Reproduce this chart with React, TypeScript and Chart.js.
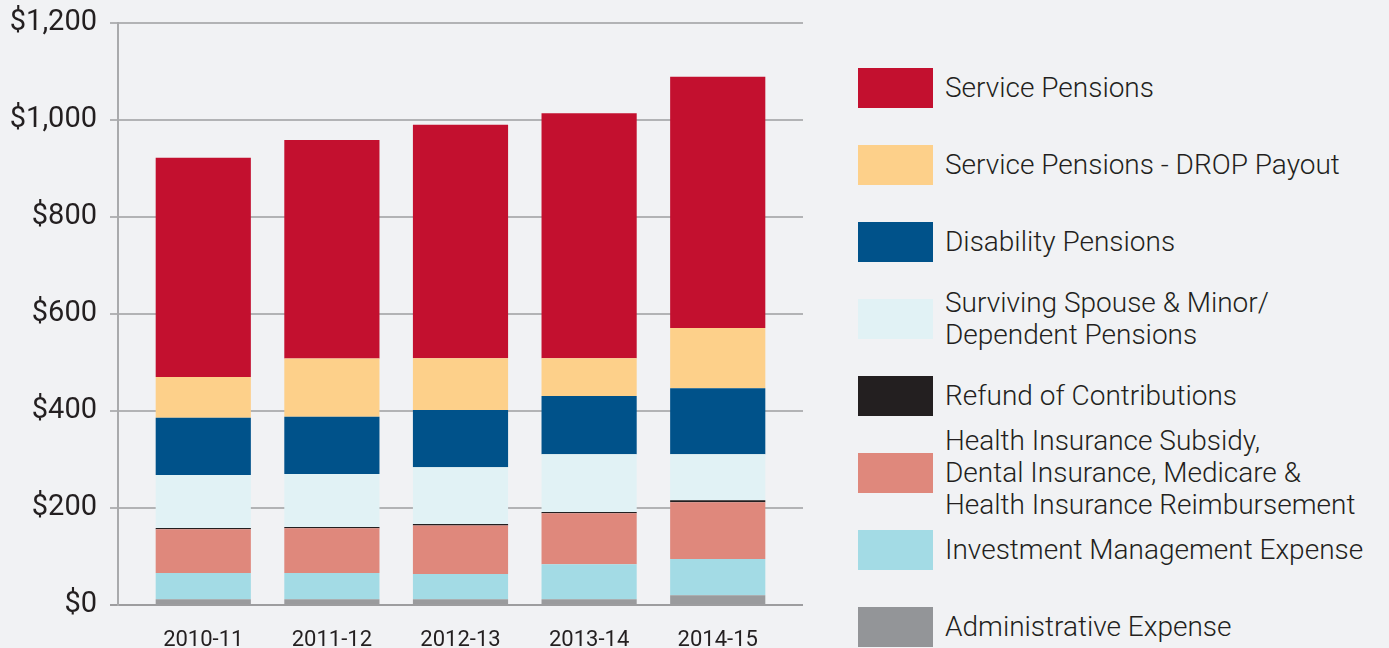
import React, { useEffect, useRef } from 'react';
import { Chart, registerables } from 'chart.js';

Chart.register(...registerables);

const categories = ['2010-11', '2011-12', '2012-13', '2013-14', '2014-15'];
const administrativeExpense = [12, 12, 12, 12, 20];
const investmentManagementExpense = [54, 54, 52, 72, 75];
const healthInsurance = [90, 92, 100, 105, 117];
const refundOfContributions = [3, 3, 3, 3, 4];
const survivingSpousePensions = [109, 109, 117, 119, 95];
const disabilityPensions = [118, 118, 118, 120, 136];
const dropPayout = [84, 120, 107, 78, 124];
const servicePensions = [452, 451, 481, 505, 518];
const yTickValues = [0, 200, 400, 600, 800, 1000, 1200];

const TEXT = '#231f20';
const FONT = 'Roboto, "Open Sans", sans-serif';

const series = [
  { label: ['Administrative Expense'], data: administrativeExpense, color: '#9a9b9d', swatch: '#939598' },
  { label: ['Investment Management Expense'], data: investmentManagementExpense, color: '#a3dbe5', swatch: '#a3dbe5' },
  { label: ['Health Insurance Subsidy,', 'Dental Insurance, Medicare &', 'Health Insurance Reimbursement'], data: healthInsurance, color: '#df887c', swatch: '#df887c' },
  { label: ['Refund of Contributions'], data: refundOfContributions, color: '#231f20', swatch: '#231f20' },
  { label: ['Surviving Spouse & Minor/', 'Dependent Pensions'], data: survivingSpousePensions, color: '#e1f2f5', swatch: '#e1f2f5' },
  { label: ['Disability Pensions'], data: disabilityPensions, color: '#00528a', swatch: '#00528a' },
  { label: ['Service Pensions - DROP Payout'], data: dropPayout, color: '#fdd08a', swatch: '#fdd08a' },
  { label: ['Service Pensions'], data: servicePensions, color: '#c3102f', swatch: '#c3102f' },
];

export default function App() {
  const canvasRef = useRef<HTMLCanvasElement | null>(null);

  useEffect(() => {
    if (!canvasRef.current) return;
    const chart = new Chart(canvasRef.current, {
      type: 'bar',
      data: {
        datasets: series.map((s) => ({
          label: s.label.join(' '),
          data: s.data.map((v, i) => ({ x: i, y: v })),
          backgroundColor: s.color,
          borderWidth: 0,
          barPercentage: 0.74,
          categoryPercentage: 1,
        })),
      },
      options: {
        animation: false,
        responsive: false,
        layout: { padding: { left: 0, right: 27, top: 23, bottom: 0 } },
        plugins: { legend: { display: false }, tooltip: { enabled: false } },
        scales: {
          x: {
            type: 'linear',
            stacked: true,
            offset: false,
            min: -0.663,
            max: 4.663,
            grid: { display: false, offset: false },
            border: { display: false },
            afterBuildTicks: (scale: any) => {
              scale.ticks = categories.map((_, i) => ({ value: i }));
            },
            afterFit: (scale: any) => {
              scale.height = 43;
              scale.paddingLeft = 0;
              scale.paddingRight = 0;
            },
            ticks: {
              autoSkip: false,
              maxRotation: 0,
              padding: 14,
              color: TEXT,
              font: { family: FONT, size: 22 },
              callback: (v: any) => categories[v as number] ?? '',
            },
          },
          y: {
            stacked: true,
            min: 0,
            max: 1200,
            afterBuildTicks: (scale: any) => {
              scale.ticks = yTickValues.map((v) => ({ value: v }));
            },
            afterFit: (scale: any) => {
              scale.width = 118;
              scale.paddingTop = 0;
              scale.paddingBottom = 0;
            },
            grid: {
              color: (ctx: any) => (ctx.tick && ctx.tick.value === 0 ? '#9d9d9f' : '#b2b3b5'),
              lineWidth: 2,
              tickLength: 8,
            },
            border: { display: true, color: '#a9aaac', width: 2 },
            ticks: {
              padding: 13,
              color: TEXT,
              font: { family: FONT, size: 29 },
              callback: (v: any) => '$' + Number(v).toLocaleString('en-US'),
            },
          },
        },
      },
    });
    return () => chart.destroy();
  }, []);

  const legendItems = [...series].reverse();

  return (
    <div
      style={{
        position: 'fixed',
        left: 0,
        top: 0,
        width: 1389,
        height: 648,
        background: '#f1f2f4',
        overflow: 'hidden',
        fontFamily: FONT,
      }}
    >
      <canvas ref={canvasRef} width={830} height={648} style={{ position: 'absolute', left: 0, top: 0 }} />
      <div style={{ position: 'absolute', left: 858, top: 49, width: 531 }}>
        {legendItems.map((s, i) => (
          <div key={i} style={{ height: 77, display: 'flex', alignItems: 'center' }}>
            <div style={{ width: 75, height: 40, background: s.swatch, flex: '0 0 auto' }} />
            <div
              style={{
                marginLeft: 12,
                fontSize: 28,
                lineHeight: '32px',
                color: TEXT,
                fontWeight: 300,
                whiteSpace: 'nowrap',
              }}
            >
              {s.label.map((line, j) => (
                <div key={j}>{line}</div>
              ))}
            </div>
          </div>
        ))}
      </div>
    </div>
  );
}
